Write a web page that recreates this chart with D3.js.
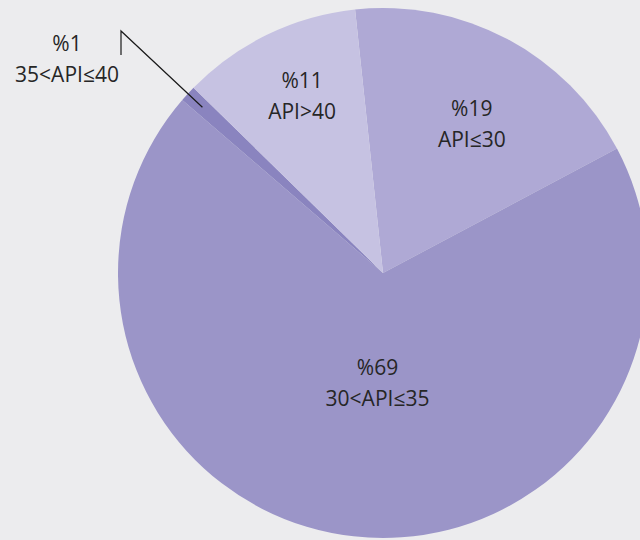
<!DOCTYPE html>
<html>
<head>
<meta charset="utf-8">
<script src="https://cdn.jsdelivr.net/npm/d3@7"></script>
<style>
  html, body { margin: 0; padding: 0; background: #ececee; }
  svg { display: block; }
</style>
</head>
<body>
<svg id="chart" width="640" height="540"></svg>
<script>
// ---- data ----
const categories = ["API≤30", "30<API≤35", "35<API≤40", "API>40"];
const values = [18.9, 69.1, 1.0, 11.0];
const percentLabels = ["%19", "%69", "%1", "%11"];
const colors = ["#afa9d5", "#9b95c8", "#8a84bf", "#c6c2e2"];

// ---- layout ----
const W = 640, H = 540;
const cx = 383, cy = 273, R = 265;
const startDeg = -6.05;

const svg = d3.select("#chart");
svg.append("rect").attr("width", W).attr("height", H).attr("fill", "#ececee");

const pie = d3.pie().sort(null).value(d => d.value)
  .startAngle(startDeg * Math.PI / 180)
  .endAngle(startDeg * Math.PI / 180 + 2 * Math.PI);

const data = categories.map((c, i) => ({ cat: c, value: values[i], pct: percentLabels[i], color: colors[i] }));
const arcs = pie(data);

const g = svg.append("g").attr("transform", `translate(${cx},${cy})`);
const arc = d3.arc().innerRadius(0).outerRadius(R);

g.selectAll("path.slice").data(arcs).enter().append("path")
  .attr("class", "slice")
  .attr("d", arc)
  .attr("fill", d => d.data.color);

// label placement: radius ratio for inside labels, angle offset (deg)
const placement = {
  "API≤30":    { inside: true, r: 0.655, dAng: 2.8 },
  "30<API≤35": { inside: true, r: 0.415, dAng: -3.5 },
  "API>40":    { inside: true, r: 0.735, dAng: 1.3 },
  "35<API≤40": { inside: false }
};

const font = "'Open Sans', 'DejaVu Sans', sans-serif";
const textColor = "#262626";

function addLabel(x, y, d) {
  const t = svg.append("text")
    .attr("x", x).attr("y", y)
    .attr("text-anchor", "middle")
    .attr("font-family", font)
    .attr("font-size", 21)
    .attr("fill", textColor);
  t.append("tspan").attr("x", x).attr("dy", 0).text(d.data.pct);
  t.append("tspan").attr("x", x).attr("dy", 31.5).text(d.data.cat);
}

arcs.forEach(d => {
  const p = placement[d.data.cat];
  const mid = (d.startAngle + d.endAngle) / 2 + (p.dAng || 0) * Math.PI / 180;
  if (p.inside) {
    const rr = R * p.r;
    const x = cx + rr * Math.sin(mid);
    const y = cy - rr * Math.cos(mid);
    addLabel(x, y - 8, d);
  } else {
    // leader line from inside slice out to the label
    const rr = R * 0.925;
    const x0 = cx + rr * Math.sin(mid);
    const y0 = cy - rr * Math.cos(mid);
    const lx = 121, ly = 31;
    svg.append("polyline")
      .attr("points", `${x0},${y0} ${lx},${ly} ${lx},${ly + 24}`)
      .attr("fill", "none")
      .attr("stroke", "#1a1a1a")
      .attr("stroke-width", 1.2);
    addLabel(67, 50.5, d);
  }
});
</script>
</body>
</html>
